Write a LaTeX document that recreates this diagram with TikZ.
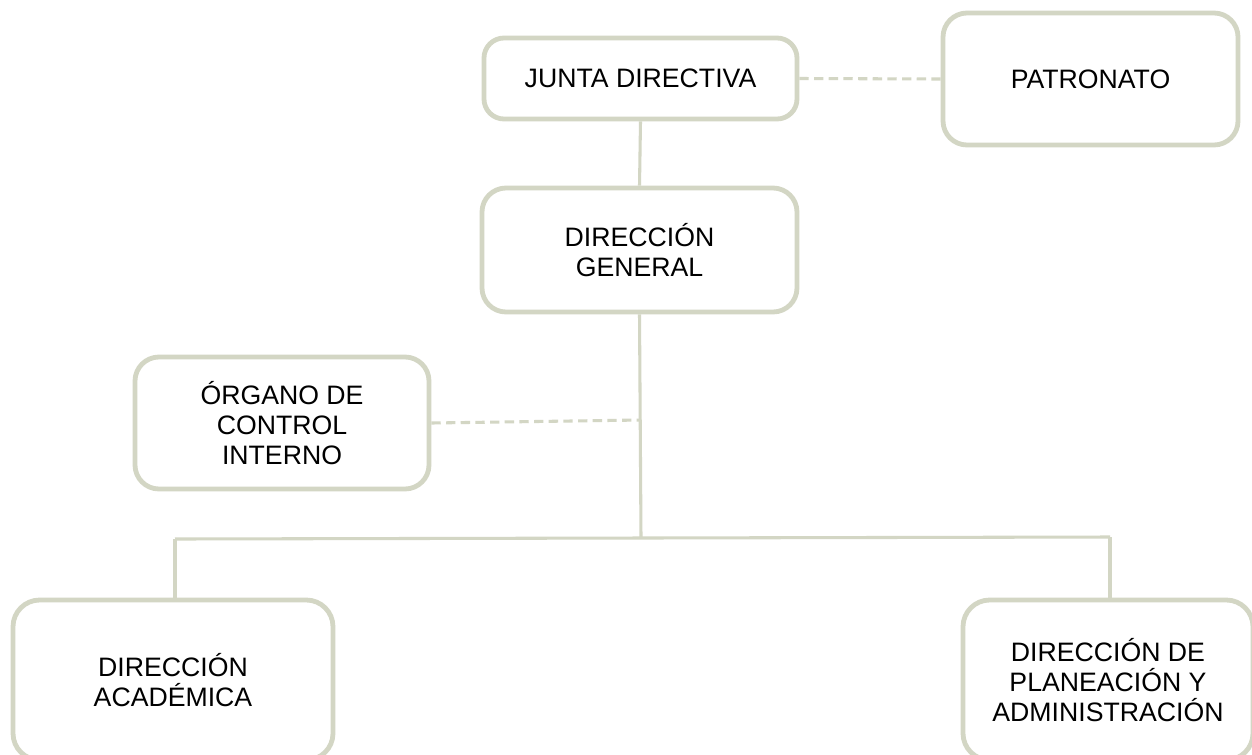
\documentclass[tikz,border=0pt]{standalone}
\usepackage{fontspec}
\setmainfont{Liberation Sans}
\definecolor{boxline}{HTML}{D3D6C4}
\begin{document}
\begin{tikzpicture}[x=0.75pt,y=-0.75pt,
  orgbox/.style={draw=boxline, line width=3.6pt, rounded corners=15pt, fill=white,
    align=center, inner sep=0pt, font=\fontsize{20}{22.5}\selectfont},
  conn/.style={draw=boxline, line width=2.3pt},
  dconn/.style={draw=boxline, line width=2.3pt, dash pattern=on 7pt off 4pt}]
\useasboundingbox (0,0) rectangle (1252,754);
\clip (0,0) rectangle (1252,754);
\fill[white] (0,0) rectangle (1252,754);
% coordinates
\coordinate (j1) at (641,538);
\coordinate (jl) at (175,539);
\coordinate (jr) at (1110,537);
\coordinate (dj) at (641,420);
\node[orgbox, minimum width=234.75pt, minimum height=60.75pt] (junta) at (640.5,78.5) {JUNTA DIRECTIVA};
\node[orgbox, minimum width=221.25pt, minimum height=99pt, rounded corners=18pt] (patr) at (1090.5,79) {PATRONATO};
\node[orgbox, minimum width=236.25pt, minimum height=93pt, rounded corners=18pt] (dg) at (639.5,250) {DIRECCIÓN\\GENERAL};
\node[orgbox, minimum width=220.5pt, minimum height=99pt, rounded corners=18pt] (oci) at (282,423) {ÓRGANO DE\\CONTROL\\INTERNO};
\node[orgbox, minimum width=240pt, minimum height=120pt, rounded corners=20pt] (acad) at (173,680) {DIRECCIÓN\\ACADÉMICA};
\node[orgbox, minimum width=217.5pt, minimum height=120pt, rounded corners=20pt] (plan) at (1108,680) {DIRECCIÓN DE\\PLANEACIÓN Y\\ADMINISTRACIÓN};
\draw[conn] (junta.south) -- (dg.north);
\draw[conn] (dg.south) -- (j1);
\draw[conn] (jl) -- (jr);
\draw[conn] (jl) -- (jl |- acad.north);
\draw[conn] (jr) -- (jr |- plan.north);
\draw[dconn] (junta.east) -- (patr.west);
\draw[dconn] (oci.east) -- (dj);
\end{tikzpicture}
\end{document}
